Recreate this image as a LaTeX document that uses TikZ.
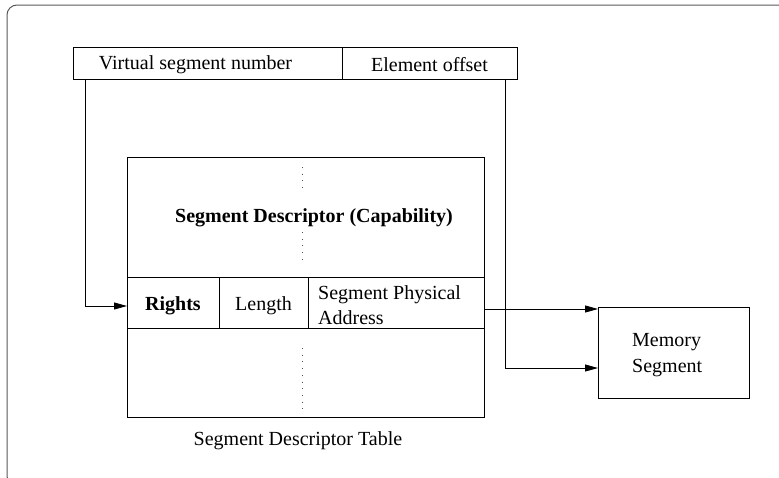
\documentclass[tikz,border=0pt]{standalone}
\usepackage{fontspec}
\setmainfont{Liberation Serif}
\usetikzlibrary{arrows.meta,calc}
\begin{document}
\begin{tikzpicture}[x=1pt,y=-1pt,
  box/.style={draw=black,line width=0.8pt,rectangle,inner sep=0pt,outer sep=0pt},
  txt/.style={inner sep=0pt,font=\fontsize{20}{25.5}\selectfont},
  conn/.style={line width=0.8pt,-{Triangle[length=13pt,width=7pt]}},
  dots/.style={line width=1pt,dash pattern=on 1pt off 5.7pt,black!70}]
\useasboundingbox (0,0) rectangle (779,477);
\begin{scope}
\clip (0,0) rectangle (779,477);
\draw[black!65,line width=1pt,rounded corners=10pt] (7,5) rectangle (830,486);
\end{scope}
% address
\node[box,minimum width=269pt,minimum height=32pt] (vsn) at (207.5,63) {};
\node[box,minimum width=175pt,minimum height=32pt] (eo) at (429.5,63) {};
\node[txt] (vsnt) at ($(vsn.center)+(-12,1.5)$) {Virtual segment number};
\node[txt] (eot) at ($(eo.center)+(0,1.5)$) {Element offset};
% table
\node[box,minimum width=357pt,minimum height=120pt] (upper) at (305.5,217) {};
\node[box,minimum width=92pt,minimum height=51pt] (rights) at (173,302.5) {};
\node[box,minimum width=89pt,minimum height=51pt] (length) at (263.5,302.5) {};
\node[box,minimum width=176pt,minimum height=51pt] (spa) at (396,302.5) {};
\node[box,minimum width=357pt,minimum height=89pt] (lower) at (305.5,372.5) {};
\node[txt,font=\fontsize{20}{25}\selectfont\bfseries] (rt) at ($(rights.center)+(0,3)$) {Rights};
\node[txt] (lt) at ($(length.center)+(0,3)$) {Length};
\node[txt,anchor=west,align=left] (spat) at ($(spa.west)+(10,2.5)$) {Segment Physical\\Address};
\node[txt,font=\fontsize{20}{25}\selectfont\bfseries] (sdc) at (314,218) {Segment Descriptor (Capability)};
\node[txt] (sdt) at (298,441) {Segment Descriptor Table};
\draw[dots] (302,167) -- (302,190);
\draw[dots] (302,232) -- (302,262);
\draw[dots] (302,348) -- (302,410);
% memory
\node[box,minimum width=151pt,minimum height=91pt] (mem) at (673.5,352.5) {};
\node[txt,anchor=west,align=left] (memt) at ($(mem.west)+(34,2.5)$) {Memory\\Segment};
% connectors
\coordinate (a1) at ($(vsn.south west)+(12,0)$);
\draw[conn] (a1) |- ($(rights.west)+(0,3.5)$);
\coordinate (a2) at ($(eo.south east)+(-12,0)$);
\draw[conn] (a2) |- ($(mem.west)+(0,15.5)$);
\coordinate (a3) at ($(spa.east)+(0,6.5)$);
\draw[conn] (a3) -- (mem.west |- a3);
\end{tikzpicture}
\end{document}
